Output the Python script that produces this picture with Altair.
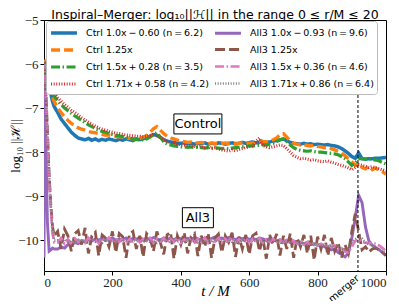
import altair as alt
import pandas as pd

# time grid (t/M)
T_EARLY = [0, 3, 6, 10, 15, 20, 25, 30]
T = T_EARLY + list(range(40, 1001, 10))

ctrl_10 = [-6.05, -5.95, -6.2, -6.4, -6.55, -6.68, -6.85, -6.97,
           -7.1, -7.25, -7.35, -7.45, -7.55, -7.62, -7.68,
           -7.7, -7.72, -7.69, -7.73, -7.7, -7.74, -7.71, -7.73, -7.7, -7.72,
           -7.74, -7.71, -7.73, -7.7, -7.72, -7.74, -7.7, -7.72, -7.7, -7.68,
           -7.64, -7.6, -7.62, -7.66, -7.72, -7.75, -7.77, -7.78, -7.8, -7.8,
           -7.79, -7.81, -7.8, -7.82, -7.8, -7.81, -7.79, -7.82, -7.8, -7.81,
           -7.79, -7.8, -7.82, -7.8, -7.79, -7.81, -7.8, -7.78, -7.8, -7.79,
           -7.77, -7.79, -7.78, -7.76, -7.78, -7.77, -7.75, -7.74, -7.72, -7.7,
           -7.74, -7.78, -7.8, -7.81, -7.82, -7.8, -7.82, -7.81, -7.83, -7.82,
           -7.83, -7.84, -7.83, -7.85, -7.86, -7.88, -7.92, -7.97, -8.03, -8.1,
           -8.14, -8.02, -8.15, -8.16, -8.15, -8.15, -8.14, -8.14, -8.13, -8.12]

ctrl_125 = [-5.9, -5.95, -6.25, -6.4, -6.55, -6.65, -6.75, -6.85,
            -7.0, -7.1, -7.2, -7.28, -7.35, -7.4, -7.45,
            -7.48, -7.5, -7.53, -7.55, -7.56, -7.58, -7.6, -7.62, -7.61, -7.63,
            -7.64, -7.66, -7.65, -7.68, -7.69, -7.7, -7.71, -7.69, -7.66, -7.62,
            -7.55, -7.47, -7.42, -7.5, -7.58, -7.64, -7.68, -7.7, -7.73, -7.75,
            -7.76, -7.78, -7.77, -7.8, -7.79, -7.78, -7.8, -7.81, -7.79, -7.8,
            -7.82, -7.8, -7.79, -7.81, -7.8, -7.82, -7.8, -7.79, -7.81, -7.8,
            -7.79, -7.8, -7.78, -7.76, -7.77, -7.75, -7.72, -7.68, -7.6, -7.58,
            -7.66, -7.75, -7.8, -7.82, -7.84, -7.83, -7.85, -7.86, -7.84, -7.87,
            -7.88, -7.9, -7.89, -7.92, -7.95, -7.98, -8.02, -8.08, -8.15, -8.22,
            -8.3, -8.25, -8.35, -8.38, -8.32, -8.4, -8.36, -8.42, -8.45, -8.5]

ctrl_15 = [-6.0, -6.0, -6.2, -6.35, -6.48, -6.58, -6.66, -6.73,
           -6.83, -6.92, -7.0, -7.06, -7.12, -7.18, -7.23,
           -7.28, -7.33, -7.38, -7.42, -7.46, -7.5, -7.53, -7.55, -7.58, -7.6,
           -7.62, -7.63, -7.65, -7.66, -7.68, -7.7, -7.71, -7.73, -7.72, -7.7,
           -7.66, -7.6, -7.56, -7.66, -7.76, -7.82, -7.84, -7.86, -7.87, -7.88,
           -7.88, -7.89, -7.88, -7.9, -7.89, -7.9, -7.91, -7.9, -7.91, -7.9,
           -7.91, -7.92, -7.91, -7.92, -7.91, -7.9, -7.89, -7.88, -7.87, -7.86,
           -7.86, -7.85, -7.84, -7.83, -7.84, -7.82, -7.8, -7.76, -7.72, -7.7,
           -7.76, -7.84, -7.9, -7.94, -7.96, -7.97, -7.98, -7.97, -7.99, -8.0,
           -8.0, -8.01, -8.02, -8.03, -8.04, -8.06, -8.1, -8.15, -8.22, -8.3,
           -8.25, -8.15, -8.15, -8.16, -8.15, -8.17, -8.18, -8.2, -8.24, -8.27]

ctrl_171 = [-6.0, -6.1, -6.2, -6.3, -6.42, -6.52, -6.6, -6.66,
            -6.76, -6.84, -6.92, -6.98, -7.05, -7.1, -7.16,
            -7.22, -7.27, -7.32, -7.37, -7.41, -7.45, -7.48, -7.5, -7.53, -7.55,
            -7.57, -7.58, -7.6, -7.61, -7.62, -7.63, -7.64, -7.64, -7.65, -7.64,
            -7.62, -7.6, -7.62, -7.68, -7.72, -7.75, -7.78, -7.8, -7.82, -7.83,
            -7.84, -7.85, -7.86, -7.87, -7.88, -7.87, -7.9, -7.88, -7.92, -7.9,
            -7.93, -7.95, -7.96, -7.98, -7.95, -7.97, -7.94, -7.92, -7.9, -7.88,
            -7.86, -7.75, -7.68, -7.85, -7.88, -7.9, -7.88, -7.86, -7.84, -7.85,
            -7.92, -8.0, -8.08, -8.12, -8.15, -8.14, -8.16, -8.18, -8.17, -8.2,
            -8.21, -8.22, -8.2, -8.23, -8.25, -8.28, -8.3, -8.33, -8.36, -8.4,
            -8.35, -8.28, -8.3, -8.32, -8.35, -8.33, -8.36, -8.38, -8.4, -8.42]

all3_10 = [-10.4, -6.0, -8.0, -9.6, -10.25, -10.22, -10.18, -10.2,
           -10.2, -10.15, -10.18, -10.1, -10.12, -10.05, -10.08,
           -10.02, -10.04, -9.98, -10.02, -9.97, -10.0, -9.96, -10.01, -9.98, -9.95,
           -10.0, -9.97, -9.99, -9.95, -10.0, -9.96, -9.98, -9.94, -9.99, -9.96,
           -9.98, -9.94, -9.97, -10.0, -9.95, -9.98, -9.96, -9.99, -9.95, -9.97,
           -10.0, -9.96, -9.98, -9.94, -9.97, -9.99, -9.95, -9.98, -9.96, -9.93,
           -9.97, -9.95, -9.98, -9.94, -9.96, -9.99, -9.95, -9.97, -9.94, -9.98,
           -9.96, -9.99, -9.95, -9.97, -10.0, -9.96, -9.98, -10.02, -9.99, -10.03,
           -10.0, -10.05, -10.02, -10.06, -10.04, -10.08, -10.05, -10.1, -10.08, -10.12,
           -10.1, -10.15, -10.18, -10.22, -10.2, -10.28, -10.32, -10.38, -10.3, -9.95,
           -9.5, -8.98, -9.15, -9.7, -10.02, -10.12, -10.17, -10.22, -10.28, -10.35]

all3_125 = [-6.1, -5.95, -6.7, -7.5, -8.5, -9.2, -9.7, -9.9,
            -9.8, -10.2, -9.75, -9.9, -10.25, -9.85, -9.78,
            -10.1, -9.72, -10.3, -9.9, -9.82, -10.35, -9.88, -9.95, -10.15, -9.8,
            -10.28, -9.85, -9.92, -10.4, -9.86, -9.8, -10.2, -9.9, -10.38, -9.85,
            -9.95, -10.25, -9.8, -10.05, -10.32, -9.88, -9.82, -10.42, -9.9, -10.1,
            -9.83, -10.3, -9.92, -9.85, -10.36, -9.9, -10.15, -9.84, -10.4, -9.95,
            -9.86, -10.28, -9.9, -10.05, -9.83, -10.38, -9.92, -10.2, -9.88, -10.32,
            -9.9, -9.84, -10.25, -9.95, -10.42, -9.88, -10.1, -9.86, -10.35, -9.9,
            -10.2, -9.85, -10.4, -9.95, -10.15, -9.88, -10.3, -9.9, -10.45, -9.92,
            -10.2, -9.88, -10.35, -9.95, -10.25, -10.05, -10.4, -10.1, -10.3, -9.8,
            -9.4, -9.8, -10.22, -10.15, -10.27, -10.2, -10.18, -10.22, -10.28, -10.35]

all3_15 = [-6.1, -6.0, -6.8, -7.6, -8.6, -9.3, -9.85, -10.05,
           -10.05, -9.95, -10.08, -9.98, -10.1, -9.96, -10.04,
           -9.97, -10.06, -9.95, -10.03, -9.98, -10.07, -9.96, -10.02, -9.94, -10.05,
           -9.97, -10.04, -9.95, -10.06, -9.98, -10.03, -9.96, -10.05, -9.97, -10.02,
           -9.95, -10.06, -9.98, -10.03, -9.96, -10.05, -9.97, -10.04, -9.95, -10.06,
           -9.98, -10.02, -9.96, -10.05, -9.97, -10.04, -9.95, -10.06, -9.98, -10.03,
           -9.96, -10.05, -9.97, -10.02, -9.95, -10.06, -9.98, -10.04, -9.96, -10.05,
           -9.97, -10.03, -9.96, -10.06, -9.98, -10.04, -9.97, -10.06, -9.99, -10.05,
           -10.0, -10.07, -10.01, -10.08, -10.02, -10.1, -10.04, -10.11, -10.06, -10.12,
           -10.08, -10.14, -10.1, -10.16, -10.12, -10.2, -10.18, -10.26, -10.28, -10.15,
           -10.02, -9.98, -10.04, -10.06, -10.07, -10.06, -10.08, -10.12, -10.18, -10.25]

all3_171 = [-6.0, -6.05, -6.7, -7.5, -8.5, -9.2, -9.8, -10.0,
            -10.0, -10.05, -9.98, -10.04, -10.0, -10.06, -9.99,
            -10.03, -10.0, -10.05, -9.98, -10.04, -10.01, -10.06, -9.99, -10.03, -10.0,
            -10.05, -9.98, -10.04, -10.01, -10.06, -9.99, -10.03, -10.0, -10.05, -9.98,
            -10.04, -10.01, -10.06, -9.99, -10.03, -10.0, -10.05, -9.98, -10.04, -10.01,
            -10.06, -9.99, -10.03, -10.0, -10.05, -9.98, -10.04, -10.01, -10.06, -9.99,
            -10.03, -10.0, -10.05, -9.98, -10.04, -10.01, -10.06, -9.99, -10.03, -10.0,
            -10.05, -9.98, -10.04, -10.01, -10.06, -9.99, -10.03, -10.02, -10.07, -10.01,
            -10.06, -10.03, -10.08, -10.04, -10.09, -10.05, -10.1, -10.06, -10.11, -10.08,
            -10.12, -10.1, -10.14, -10.12, -10.16, -10.15, -10.2, -10.22, -10.18, -10.05,
            -9.98, -9.92, -9.96, -10.05, -10.1, -10.12, -10.15, -10.2, -10.25, -10.3]

SERIES = [
    "Ctrl 1.0x\u2009\u2212\u20090.60 (n\u2009=\u20096.2)",
    "Ctrl 1.25x",
    "Ctrl 1.5x\u2009+\u20090.28 (n\u2009=\u20093.5)",
    "Ctrl 1.71x\u2009+\u20090.58 (n\u2009=\u20094.2)",
    "All3 1.0x\u2009\u2212\u20090.93 (n\u2009=\u20099.6)",
    "All3 1.25x",
    "All3 1.5x\u2009+\u20090.36 (n\u2009=\u20094.6)",
    "All3 1.71x\u2009+\u20090.86 (n\u2009=\u20096.4)",
]
VALUES = [ctrl_10, ctrl_125, ctrl_15, ctrl_171, all3_10, all3_125, all3_15, all3_171]
COLORS = ["#1f77b4", "#ff7f0e", "#2ca02c", "#d62728", "#9467bd", "#8c564b", "#e377c2", "#7f7f7f"]
WIDTHS = [3.5, 2.5, 1.6, 1.0, 3.5, 3.0, 1.6, 1.0]
DASHES = [[1, 0], [9, 4], [9, 2.5, 1.5, 2.5], [1, 1.6], [1, 0], [10, 4], [9, 2.5, 1.5, 2.5], [1, 1.6]]

MERGER_T = 918
ANN_LABELS = ["Control", "All3"]
ANN_T = [450, 450]
ANN_Y = [-7.36, -9.49]
ANN_W = [48, 31]
TITLE = "Inspiral\u2013Merger: log\u2081\u2080||\u210b|| in the range 0 \u2264 r/M \u2264 20"

rows = []
for name, vals in zip(SERIES, VALUES):
    for t, v in zip(T, vals):
        rows.append({"t": t, "v": v, "series": name})
df = pd.DataFrame(rows)

legend = alt.Legend(title=None, orient="none", legendX=2, legendY=1, columns=2,
                    symbolType="M-1.85,0H1.85", symbolSize=196, symbolOffset=6,
                    labelFont="DejaVu Sans", labelFontSize=9.5, labelOffset=13,
                    rowPadding=1, columnPadding=0,
                    labelColor="black", labelLimit=300, padding=3,
                    fillColor="white", strokeColor="#bbbbbb", cornerRadius=3)

xenc = alt.X("t:Q", scale=alt.Scale(domain=[0, 1000], nice=False),
             axis=alt.Axis(values=[0, 200, 400, 600, 800, 1000], format="d", title="t / M",
                           titleFont="Liberation Serif", titleFontStyle="italic",
                           titleFontSize=15, titleFontWeight="normal", titleY=12,
                           labelFont="Liberation Serif", labelFontSize=13,
                           labelPadding=1, tickSize=4, grid=False, domain=False,
                           labelColor="#222", tickColor="black"))
yenc = alt.Y("v:Q", scale=alt.Scale(domain=[-10.7, -5], nice=False, zero=False),
             axis=alt.Axis(values=[-10, -9, -8, -7, -6, -5], format="d",
                           title="log\u2081\u2080 ||\u210b||",
                           titleFont="Liberation Serif", titleFontSize=13,
                           titleFontWeight="normal", titleX=-22,
                           labelFont="Liberation Serif", labelFontSize=13,
                           labelPadding=2, tickSize=4, grid=False, domain=False,
                           labelColor="#222", tickColor="black"))

base = alt.Chart(df).mark_line(clip=True, strokeCap="butt").encode(
    x=xenc, y=yenc,
    color=alt.Color("series:N", scale=alt.Scale(domain=SERIES, range=COLORS), legend=legend),
    strokeDash=alt.StrokeDash("series:N", scale=alt.Scale(domain=SERIES, range=DASHES), legend=legend),
    strokeWidth=alt.StrokeWidth("series:N", scale=alt.Scale(domain=SERIES, range=WIDTHS), legend=legend),
)
layers = [base.transform_filter(alt.datum.series == s) for s in SERIES]

rule = alt.Chart(pd.DataFrame({"t": [MERGER_T]})).mark_rule(
    color="black", strokeDash=[3, 2], strokeWidth=1).encode(x="t:Q")

merger_txt = alt.Chart(pd.DataFrame({"t": [MERGER_T], "lab": ["merger"]})).mark_text(
    angle=320, align="right", baseline="middle", font="DejaVu Sans", fontSize=10,
    dx=0, clip=False).encode(x="t:Q", y=alt.value(257), text="lab:N")

ann_df = pd.DataFrame({"t": ANN_T, "v": ANN_Y, "lab": ANN_LABELS})
ann_layers = []
for i in range(len(ANN_LABELS)):
    sub = ann_df.iloc[[i]]
    ann_layers.append(alt.Chart(sub).mark_rect(width=ANN_W[i], height=20, fill="white",
                                               stroke="black", strokeWidth=1).encode(x="t:Q", y="v:Q"))
    ann_layers.append(alt.Chart(sub).mark_text(font="DejaVu Sans", fontSize=13,
                                               baseline="middle", align="center").encode(
        x="t:Q", y="v:Q", text="lab:N"))

title_txt = alt.Chart(pd.DataFrame({"lab": [TITLE]})).mark_text(
    font="DejaVu Sans", fontSize=12.5, align="center", baseline="alphabetic").encode(
    x=alt.value(171), y=alt.value(-1), text="lab:N")

chart = alt.layer(*layers, rule, *ann_layers, merger_txt, title_txt).properties(
    width=342, height=251,
    padding={"left": 36, "top": 12, "right": 3, "bottom": 30},
    autosize=alt.AutoSizeParams(type="none"),
).configure_view(stroke="black", strokeWidth=1).configure_legend(
    fillColor="white", strokeColor="#bbbbbb", strokeWidth=1, cornerRadius=3, padding=3)

chart.save("out.html", embed_options={"renderer": "svg", "actions": False})
